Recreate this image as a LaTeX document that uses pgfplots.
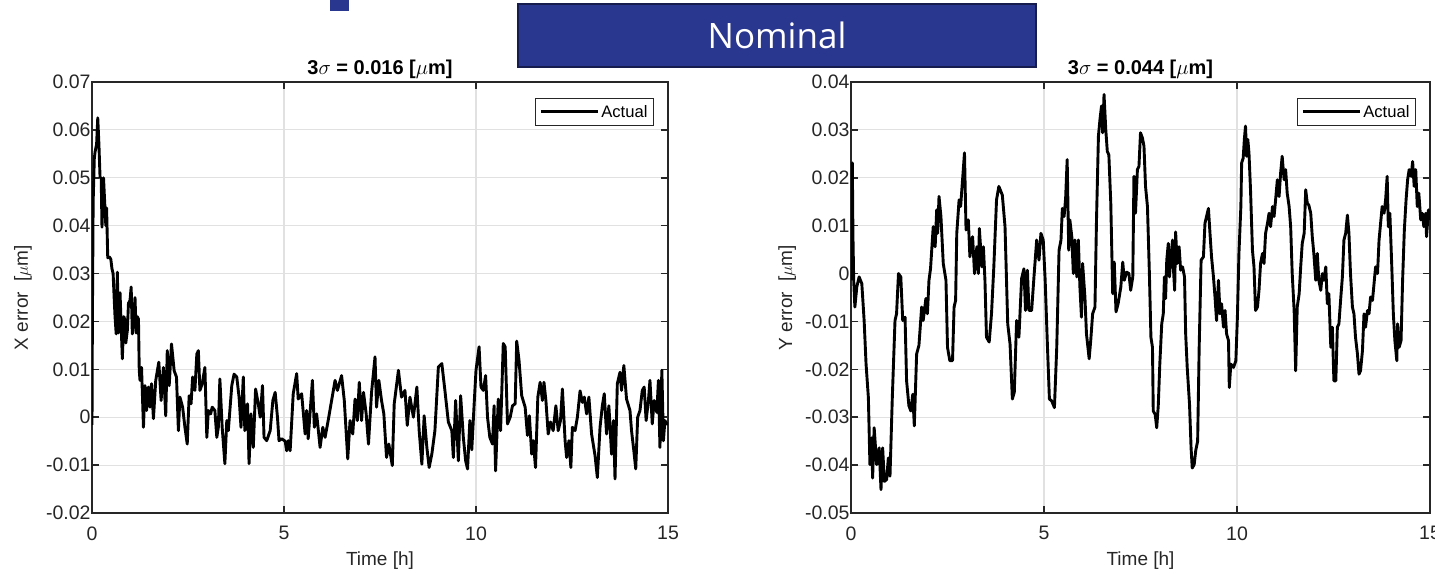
\documentclass[border=0pt]{standalone}
\usepackage{fontspec}
\setmainfont{Liberation Sans}
\newfontfamily\nomfont{Open Sans}
\usepackage{pgfplots}
\usepackage{pgfplotstable}
\pgfplotsset{compat=1.18}
\definecolor{axgray}{RGB}{38,38,38}
\definecolor{gridgray}{RGB}{225,225,225}
\definecolor{navy}{RGB}{41,55,143}
\definecolor{navyedge}{RGB}{22,28,78}

\pgfplotstableread{
t v
0 -0.0016
0.01 0.020
0.03 0.045
0.06 0.054
0.08 0.0554
0.12 0.057
0.15 0.0625
0.18 0.057
0.21 0.050
0.24 0.050
0.26 0.0397
0.30 0.050
0.34 0.0433
0.36 0.040
0.38 0.0437
0.41 0.0333
0.45 0.0335
0.49 0.033
0.52 0.031
0.55 0.030
0.58 0.0244
0.60 0.021
0.63 0.0174
0.66 0.0303
0.69 0.0176
0.73 0.026
0.79 0.0122
0.83 0.021
0.86 0.0202
0.88 0.0155
0.92 0.0181
0.95 0.0238
0.99 0.0244
1.02 0.0272
1.05 0.0174
1.09 0.0209
1.12 0.025
1.15 0.0176
1.18 0.021
1.21 0.0205
1.23 0.0099
1.25 0.0077
1.29 0.0104
1.34 -0.0021
1.38 0.0066
1.42 0.0014
1.47 0.0063
1.51 0.0021
1.55 0.0070
1.60 -0.0003
1.66 0.0077
1.74 0.0115
1.80 0.0035
1.86 0.0104
1.92 0.0003
1.96 0.0139
2.01 0.0066
2.07 0.0153
2.14 0.0097
2.20 0.0084
2.25 -0.0028
2.29 0.0042
2.36 0.0021
2.42 -0.0021
2.48 -0.0056
2.53 0.0045
2.58 0.0028
2.62 0.0084
2.68 0.0056
2.73 0.0132
2.77 0.0139
2.81 0.0056
2.87 0.0070
2.94 0.0104
2.99 -0.0042
3.03 0.0014
3.09 0.0007
3.13 0.0021
3.20 0.0014
3.25 -0.0042
3.29 -0.0021
3.33 0.0080
3.39 -0.0021
3.46 -0.0097
3.51 -0.0007
3.55 -0.0028
3.64 0.0066
3.70 0.0090
3.77 0.0084
3.83 0.0042
3.88 -0.0021
3.94 0.0084
3.98 -0.0028
4.05 0.0028
4.09 -0.0097
4.14 0.0007
4.20 -0.0063
4.26 0.0059
4.33 0.0028
4.38 0.0000
4.44 0.0066
4.48 -0.0042
4.55 -0.0049
4.64 -0.0028
4.71 0.0035
4.77 0.0052
4.83 0.0000
4.87 -0.0049
4.94 -0.0045
5.03 -0.0050
5.07 -0.0070
5.11 -0.0049
5.16 -0.0070
5.24 0.0049
5.33 0.0091
5.37 0.0038
5.46 0.0049
5.55 -0.0035
5.59 0.0014
5.63 -0.0045
5.74 0.0077
5.79 -0.0021
5.85 0.0007
5.94 -0.0063
6.01 -0.0021
6.07 -0.0042
6.15 -0.0007
6.24 0.0035
6.33 0.0077
6.39 0.0056
6.50 0.0087
6.57 0.0035
6.66 -0.0087
6.72 -0.0007
6.79 -0.0035
6.85 0.0038
6.91 -0.0007
6.96 0.0073
7.02 -0.0007
7.07 0.0052
7.14 0.0007
7.20 -0.0056
7.28 0.0052
7.37 0.0126
7.41 0.0021
7.47 0.0077
7.54 0.0035
7.60 0.0007
7.67 -0.0084
7.73 -0.0056
7.82 -0.0101
7.87 0.0028
7.98 0.0098
8.06 0.0042
8.15 0.0056
8.21 -0.0017
8.28 0.0042
8.37 0.0000
8.46 0.0063
8.52 -0.0028
8.59 -0.0098
8.65 0.0003
8.72 -0.0063
8.78 -0.0105
8.85 -0.0077
8.93 -0.0028
9.02 0.0105
9.11 0.0112
9.19 0.0056
9.28 -0.0010
9.37 -0.0028
9.41 -0.0084
9.47 0.0035
9.54 -0.0091
9.60 0.0045
9.67 -0.0042
9.73 -0.0091
9.78 -0.0108
9.84 -0.0007
9.89 -0.0068
9.95 0.0025
10.00 0.0098
10.08 0.0147
10.13 0.0063
10.19 0.0056
10.25 0.0087
10.30 0.0000
10.36 -0.0042
10.43 -0.0056
10.47 0.0024
10.51 -0.0112
10.58 0.0038
10.64 -0.0028
10.71 0.0154
10.76 0.0147
10.82 -0.0014
10.89 0.0000
10.95 0.0024
11.02 0.0028
11.06 0.0159
11.12 0.0119
11.19 0.0045
11.28 0.0021
11.34 -0.0038
11.39 0.0003
11.45 -0.0077
11.49 -0.0049
11.55 -0.0105
11.61 0.0042
11.67 0.0073
11.73 0.0035
11.77 0.0073
11.82 0.0035
11.88 -0.0035
11.94 -0.0010
12.01 -0.0028
12.08 0.0024
12.14 -0.0028
12.20 -0.0007
12.25 0.0059
12.32 -0.0049
12.36 -0.0084
12.42 -0.0049
12.47 -0.0105
12.51 -0.0021
12.58 -0.0028
12.64 0.0000
12.71 0.0055
12.77 0.0031
12.82 0.0042
12.88 0.0007
12.94 0.0042
13.01 -0.0035
13.10 -0.0080
13.16 -0.0126
13.23 -0.0021
13.29 0.0024
13.34 0.0049
13.40 -0.0035
13.46 0.0024
13.53 -0.0077
13.58 -0.0007
13.62 -0.0129
13.68 0.0070
13.75 0.0094
13.79 0.0056
13.85 0.0108
13.92 0.0038
14.01 0.0014
14.05 -0.0028
14.11 -0.0070
14.16 -0.0108
14.21 0.0000
14.27 0.0014
14.33 0.0056
14.38 0.0063
14.43 -0.0007
14.49 0.0035
14.53 0.0077
14.59 -0.0014
14.64 0.0035
14.71 0.0010
14.75 0.0077
14.79 -0.0063
14.84 0.0098
14.88 -0.0049
14.92 -0.0007
14.97 -0.0014
15.00 -0.0014
}\xdata

\pgfplotstableread{
t v
0 -0.0014
0.02 0.012
0.034 0.0231
0.05 0.008
0.07 -0.0014
0.10 -0.0070
0.15 -0.0028
0.21 -0.0007
0.28 -0.0021
0.34 -0.0098
0.39 -0.0189
0.45 -0.0259
0.49 -0.0399
0.535 -0.0343
0.56 -0.0427
0.60 -0.0322
0.665 -0.0399
0.73 -0.0364
0.777 -0.0451
0.82 -0.0364
0.864 -0.0434
0.924 -0.0430
0.967 -0.0385
1.01 -0.0423
1.07 -0.0259
1.14 -0.0098
1.18 -0.0084
1.23 0.0000
1.29 -0.0007
1.34 -0.0098
1.40 -0.0091
1.44 -0.0224
1.50 -0.0276
1.55 -0.0287
1.60 -0.0252
1.64 -0.0318
1.70 -0.0168
1.76 -0.0150
1.83 -0.0070
1.87 -0.0098
1.94 -0.0052
1.98 -0.0084
2.02 -0.0014
2.06 0.0010
2.13 0.0098
2.18 0.0056
2.22 0.0133
2.245 0.0084
2.28 0.0161
2.33 0.0119
2.39 0.0021
2.46 -0.0014
2.50 -0.0154
2.56 -0.0182
2.63 -0.0182
2.67 -0.0070
2.71 -0.0056
2.74 0.0084
2.80 0.0154
2.84 0.0140
2.89 0.0196
2.94 0.0252
2.98 0.0091
3.04 0.0112
3.08 0.0035
3.15 0.0077
3.20 0.0000
3.26 0.0056
3.30 0.0000
3.325 0.0094
3.39 0.0014
3.43 0.0056
3.47 -0.0014
3.51 -0.0133
3.58 -0.0143
3.64 -0.0084
3.70 0.0014
3.77 0.0154
3.83 0.0182
3.92 0.0164
3.99 0.0098
4.06 -0.0105
4.12 -0.0147
4.18 -0.0262
4.23 -0.0248
4.29 -0.0098
4.35 -0.0133
4.42 -0.0010
4.48 0.0010
4.52 -0.0077
4.57 0.0007
4.61 -0.0077
4.68 -0.0077
4.74 -0.0007
4.81 0.0070
4.87 0.0028
4.92 0.0084
4.98 0.0070
5.03 -0.0014
5.09 -0.0154
5.14 -0.0262
5.20 -0.0266
5.27 -0.0280
5.33 -0.0154
5.39 0.0049
5.44 0.0070
5.475 0.0136
5.52 0.0119
5.56 0.0157
5.60 0.0238
5.64 0.0049
5.67 0.0112
5.72 0.0077
5.76 0.0000
5.80 0.0070
5.85 -0.0007
5.89 0.0070
5.93 -0.0028
5.97 -0.0091
6.00 0.0021
6.06 -0.0049
6.10 -0.0126
6.17 -0.0178
6.21 -0.0140
6.26 -0.0084
6.32 -0.0070
6.36 0.0112
6.41 0.0287
6.45 0.0322
6.49 0.0350
6.52 0.0294
6.555 0.0374
6.60 0.0301
6.64 0.0255
6.68 0.0248
6.73 0.0147
6.78 -0.0042
6.82 0.0024
6.865 -0.0080
6.92 -0.0063
6.99 -0.0028
7.04 0.0024
7.08 -0.0014
7.14 0.0003
7.20 0.0000
7.245 -0.0035
7.30 -0.0007
7.33 0.0203
7.37 0.0126
7.42 0.0217
7.46 0.0224
7.50 0.0294
7.55 0.0283
7.59 0.0266
7.63 0.0182
7.68 0.0140
7.73 0.0000
7.77 -0.0133
7.81 -0.0154
7.83 -0.0287
7.88 -0.0294
7.92 -0.0322
7.96 -0.0276
8.00 -0.0189
8.05 -0.0105
8.09 -0.0084
8.12 -0.0007
8.15 -0.0052
8.18 0.0028
8.22 0.0063
8.25 -0.0007
8.28 0.0028
8.33 0.0070
8.35 0.0014
8.385 -0.0035
8.41 0.0087
8.45 0.0021
8.50 0.0056
8.54 0.0007
8.59 0.0014
8.64 -0.0007
8.67 -0.0126
8.71 -0.0196
8.77 -0.0273
8.81 -0.0364
8.84 -0.0406
8.89 -0.0399
8.93 -0.0370
8.98 -0.0350
9.02 -0.0154
9.07 0.0028
9.13 0.0035
9.17 0.0105
9.21 0.0119
9.26 0.0136
9.30 0.0084
9.34 0.0035
9.39 -0.0007
9.43 -0.0049
9.47 -0.0098
9.52 -0.0014
9.56 -0.0084
9.60 -0.0063
9.65 -0.0112
9.69 -0.0077
9.73 -0.0126
9.78 -0.0140
9.80 -0.0238
9.84 -0.0189
9.91 -0.0196
9.97 -0.0182
10.01 -0.0091
10.05 0.0042
10.10 0.0140
10.12 0.0231
10.16 0.0241
10.19 0.0280
10.22 0.0308
10.25 0.0245
10.28 0.0280
10.31 0.0252
10.35 0.0175
10.40 0.0049
10.44 0.0014
10.48 -0.0077
10.53 -0.0070
10.57 -0.0035
10.61 0.0021
10.66 0.0042
10.70 0.0021
10.74 0.0084
10.79 0.0105
10.83 0.0126
10.87 0.0098
10.92 0.0140
10.96 0.0119
11.00 0.0154
11.045 0.0196
11.09 0.0161
11.13 0.0210
11.17 0.0245
11.22 0.0196
11.26 0.0217
11.30 0.0168
11.35 0.0140
11.39 0.0098
11.43 0.0000
11.48 -0.0077
11.52 -0.0203
11.56 -0.0070
11.61 -0.0042
11.65 0.0014
11.69 0.0063
11.74 0.0084
11.78 0.0175
11.82 0.0147
11.86 0.0143
11.91 0.0126
11.95 0.0077
11.99 0.0042
12.04 -0.0014
12.08 0.0042
12.12 -0.0014
12.17 -0.0035
12.21 0.0000
12.25 -0.0014
12.30 0.0014
12.34 -0.0063
12.38 -0.0042
12.43 -0.0154
12.47 -0.0112
12.51 -0.0224
12.56 -0.0224
12.60 -0.0112
12.64 -0.0105
12.69 -0.0049
12.73 -0.0007
12.77 0.0070
12.815 0.0084
12.86 0.0122
12.90 0.0084
12.94 0.0000
12.99 -0.0070
13.03 -0.0084
13.07 -0.0133
13.12 -0.0168
13.16 -0.0210
13.20 -0.0203
13.25 -0.0161
13.29 -0.0084
13.33 -0.0112
13.38 -0.0077
13.42 -0.0084
13.46 -0.0049
13.51 -0.0056
13.55 -0.0021
13.59 0.0014
13.64 0.0000
13.68 0.0070
13.72 0.0105
13.76 0.0140
13.81 0.0126
13.85 0.0154
13.89 0.0203
13.92 0.0098
13.96 0.0126
14.01 0.0014
14.05 -0.0084
14.09 -0.0140
14.14 -0.0182
14.16 -0.0105
14.20 -0.0154
14.25 -0.0140
14.29 -0.0014
14.335 0.0091
14.38 0.0154
14.42 0.0196
14.46 0.0217
14.51 0.0203
14.55 0.0234
14.59 0.0182
14.63 0.0217
14.67 0.0140
14.71 0.0168
14.76 0.0112
14.80 0.0126
14.84 0.0098
14.89 0.0126
14.91 0.0077
14.96 0.0133
15.00 0.0112
}\ydata

\pgfplotsset{
  matlab/.style={
    scale only axis, height=431pt,
    xmin=0, xmax=15,
    xtick={0,5,10,15}, xticklabels={0,5,10,15},
    scaled y ticks=false, scaled x ticks=false,
    grid=major,
    major grid style={gridgray, line width=1.1pt},
    axis line style={axgray, line width=1.8pt},
    every tick/.style={axgray, line width=1.6pt},
    tick align=inside, major tick length=7pt,
    xticklabel style={font=\fontsize{19.5}{21}\selectfont, text=axgray, yshift=-10pt},
    yticklabel style={font=\fontsize{19.5}{21}\selectfont, text=axgray, xshift=2pt},
    xlabel style={font=\fontsize{19}{21}\selectfont, text=axgray},
    ylabel style={font=\fontsize{19}{21}\selectfont, text=axgray},
    title style={font=\fontsize{20}{22}\selectfont\bfseries, at={(axis description cs:0.5,1)}, anchor=center, yshift=7pt},
    legend style={at={(1,1)}, anchor=north east, xshift=-14pt, yshift=-16pt,
      draw=axgray, fill=white,
      font=\fontsize{16.6}{18}\selectfont, inner xsep=4pt, inner ysep=4.5pt},
    legend cell align=left,
    legend image code/.code={\draw[black, line width=3pt] (0pt,0pt) -- (57pt,0pt);},
  }
}

\begin{document}
\begin{tikzpicture}
\path[use as bounding box] (0pt,0pt) rectangle (1435pt,-571pt);

\begin{axis}[matlab, width=576pt, at={(92pt,-513pt)}, anchor=south west,
  ymin=-0.02, ymax=0.07,
  ytick={-0.02,-0.01,0,0.01,0.02,0.03,0.04,0.05,0.06,0.07},
  yticklabels={-0.02,-0.01,0,0.01,0.02,0.03,0.04,0.05,0.06,0.07},
  xlabel={Time [h]},
  xlabel style={at={(axis description cs:0.5,0)}, anchor=center, yshift=-48pt},
  ylabel={X error\ \ [$\mu$m]},
  ylabel style={at={(axis description cs:-0.12,0.5)}, anchor=center},
  title={3$\sigma$ = 0.016 [$\mu$m]},
  legend style={line width=1.1pt},
]
\addplot[black, line width=2.9pt, line join=round] table[x=t, y=v] {\xdata};
\addlegendentry{Actual}
\end{axis}

\begin{axis}[matlab, width=579pt, at={(851pt,-513pt)}, anchor=south west,
  ymin=-0.05, ymax=0.04,
  ytick={-0.05,-0.04,-0.03,-0.02,-0.01,0,0.01,0.02,0.03,0.04},
  yticklabels={-0.05,-0.04,-0.03,-0.02,-0.01,0,0.01,0.02,0.03,0.04},
  xlabel={Time [h]},
  xlabel style={at={(axis description cs:0.5,0)}, anchor=center, yshift=-48pt},
  ylabel={Y error\ \ [$\mu$m]},
  ylabel style={at={(axis description cs:-0.11,0.5)}, anchor=center},
  title={3$\sigma$ = 0.044 [$\mu$m]},
  legend style={line width=1.1pt},
]
\addplot[black, line width=2.9pt, line join=round] table[x=t, y=v] {\ydata};
\addlegendentry{Actual}
\end{axis}

\fill[navy] (330pt,0pt) rectangle (349pt,-11pt);
\node[fill=navy, draw=navyedge, line width=2pt, minimum width=518pt, minimum height=63pt,
  anchor=north west, inner sep=0pt] at (517pt,-3pt) {};
\node[text=white, font=\nomfont\fontsize{35}{40}\selectfont] at (777pt,-35pt) {Nominal};
\end{tikzpicture}
\end{document}
